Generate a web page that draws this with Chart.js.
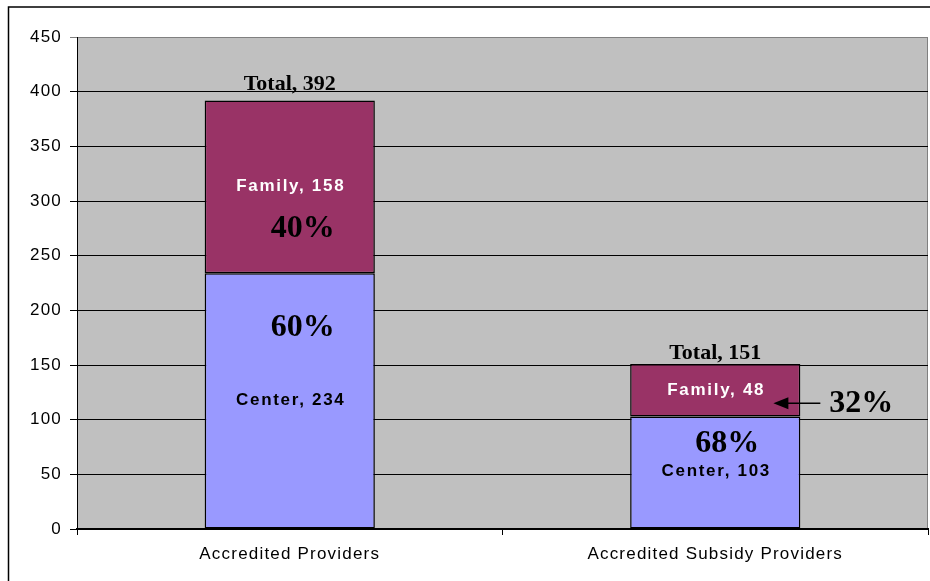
<!DOCTYPE html>
<html>
<head>
<meta charset="utf-8">
<script src="https://cdn.jsdelivr.net/npm/chart.js@4/dist/chart.umd.min.js"></script>
<style>
  html, body { margin: 0; padding: 0; background: #fff; }
  #wrap { width: 930px; height: 581px; position: relative; }
</style>
</head>
<body>
<div id="wrap"><canvas id="providersChart" width="930" height="581"></canvas></div>
<script>
    // ===================================
    // DATA
    // ===================================
    const categories = ['Accredited Providers', 'Accredited Subsidy Providers'];
    const centerCounts = [234, 103];
    const familyCounts = [158, 48];
    const yTicks = [0, 50, 100, 150, 200, 250, 300, 350, 400, 450];

    const totals = centerCounts.map((c, i) => c + familyCounts[i]);
    const pct = (part, whole) => Math.round(part / whole * 100) + '%';

    // where the big percent call-outs sit, relative to their segment
    const callouts = [
        { cat: 0, seg: 'family', dx: 13, dy: 42 },
        { cat: 0, seg: 'center', dx: 13, dy: -73 },
        { cat: 1, seg: 'center', dx: 12, dy: -29 },
        { cat: 1, seg: 'family', dx: 146, dy: 14, arrow: true }
    ];

    const SANS = '"Liberation Sans", Arial, sans-serif';
    const SERIF = '"Liberation Serif", "Times New Roman", serif';

    // ===================================
    // PLUGINS
    // ===================================
    const frameAndBackground = {
        id: 'frameAndBackground',
        beforeDraw(chart) {
            const { ctx, chartArea: a } = chart;
            ctx.save();
            // outer chart border
            ctx.strokeStyle = '#000';
            ctx.lineWidth = 1.5;
            ctx.strokeRect(8.5, 7, 1000, 1000);
            // plot area
            ctx.fillStyle = '#C0C0C0';
            ctx.fillRect(a.left, a.top, a.right - a.left, a.bottom - a.top);
            ctx.strokeStyle = '#808080';
            ctx.lineWidth = 1;
            ctx.beginPath();
            ctx.moveTo(a.left, a.top + 0.5);
            ctx.lineTo(a.right - 0.5, a.top + 0.5);
            ctx.lineTo(a.right - 0.5, a.bottom);
            ctx.stroke();
            ctx.restore();
            ctx.letterSpacing = '1.2px';
        }
    };

    const barLabels = {
        id: 'barLabels',
        afterDatasetsDraw(chart) {
            const { ctx } = chart;
            const y = chart.scales.y;
            const centerBars = chart.getDatasetMeta(0).data;
            const totalGap = [10, 5];
            ctx.save();
            ctx.textAlign = 'center';

            categories.forEach((cat, i) => {
                const x = centerBars[i].x;
                const cMid = y.getPixelForValue(centerCounts[i] / 2);
                const fMid = y.getPixelForValue(centerCounts[i] + familyCounts[i] / 2);

                ctx.letterSpacing = '1.7px';
                ctx.font = 'bold 17px ' + SANS;
                ctx.textBaseline = 'middle';
                ctx.fillStyle = '#fff';
                ctx.fillText('Family, ' + familyCounts[i], x + 1, fMid);
                ctx.fillStyle = '#000';
                ctx.fillText('Center, ' + centerCounts[i], x + 1, cMid - 1);

                ctx.letterSpacing = '0px';
                ctx.font = 'bold 22px ' + SERIF;
                ctx.textBaseline = 'alphabetic';
                ctx.fillText('Total, ' + totals[i], x, y.getPixelForValue(totals[i]) - totalGap[i]);
            });

            ctx.font = 'bold 32px ' + SERIF;
            ctx.textBaseline = 'middle';
            callouts.forEach(c => {
                const bar = centerBars[c.cat];
                const i = c.cat;
                const isFam = c.seg === 'family';
                const mid = isFam
                    ? y.getPixelForValue(centerCounts[i] + familyCounts[i] / 2)
                    : y.getPixelForValue(centerCounts[i] / 2);
                const text = pct(isFam ? familyCounts[i] : centerCounts[i], totals[i]);
                ctx.fillStyle = '#000';
                ctx.fillText(text, bar.x + c.dx, mid + c.dy);
                if (c.arrow) {
                    const right = bar.x + bar.width / 2;
                    const ay = mid + c.dy - 1;
                    const tip = right - 27;
                    ctx.strokeStyle = '#000';
                    ctx.lineWidth = 1.5;
                    ctx.beginPath();
                    ctx.moveTo(right + 20, ay);
                    ctx.lineTo(tip + 10, ay);
                    ctx.stroke();
                    ctx.beginPath();
                    ctx.moveTo(tip, ay);
                    ctx.lineTo(tip + 15, ay - 6);
                    ctx.lineTo(tip + 15, ay + 6);
                    ctx.closePath();
                    ctx.fill();
                }
            });
            ctx.restore();
        }
    };

    // ===================================
    // CHART CONFIG
    // ===================================
    const config = {
        type: 'bar',
        data: {
            labels: categories,
            datasets: [
                {
                    label: 'Center',
                    data: centerCounts,
                    backgroundColor: '#9999FF',
                    borderColor: '#000',
                    borderWidth: 1.5,
                    borderSkipped: false
                },
                {
                    label: 'Family',
                    data: familyCounts,
                    backgroundColor: '#993366',
                    borderColor: '#000',
                    borderWidth: 1.5,
                    borderSkipped: false
                }
            ]
        },
        options: {
            responsive: false,
            animation: false,
            layout: { padding: { top: 37, right: 2, left: 0, bottom: 0 } },
            datasets: { bar: { categoryPercentage: 1, barPercentage: 0.4 } },
            plugins: {
                legend: { display: false },
                tooltip: { enabled: false }
            },
            scales: {
                x: {
                    stacked: true,
                    offset: true,
                    border: { color: '#000', width: 2 },
                    grid: {
                        offset: true,
                        drawOnChartArea: false,
                        drawTicks: true,
                        tickLength: 6,
                        color: '#000'
                    },
                    ticks: {
                        color: '#000',
                        padding: 9,
                        font: { family: SANS, size: 17 }
                    },
                    afterFit(scale) { scale.height = 52; }
                },
                y: {
                    stacked: true,
                    min: 0,
                    max: 450,
                    border: { color: '#000', width: 1 },
                    grid: {
                        color: ctx => ctx.tick && ctx.tick.value === 450 ? '#808080' : '#000',
                        tickLength: 7,
                        lineWidth: 1
                    },
                    afterBuildTicks(scale) {
                        scale.ticks = yTicks.map(v => ({ value: v }));
                    },
                    ticks: {
                        color: '#000',
                        padding: 8,
                        font: { family: SANS, size: 17 }
                    },
                    afterFit(scale) { scale.width = 77; }
                }
            }
        },
        plugins: [frameAndBackground, barLabels]
    };

    // --- Render Chart ---
    const ctxProv = document.getElementById('providersChart').getContext('2d');
    new Chart(ctxProv, config);
</script>
</body>
</html>
